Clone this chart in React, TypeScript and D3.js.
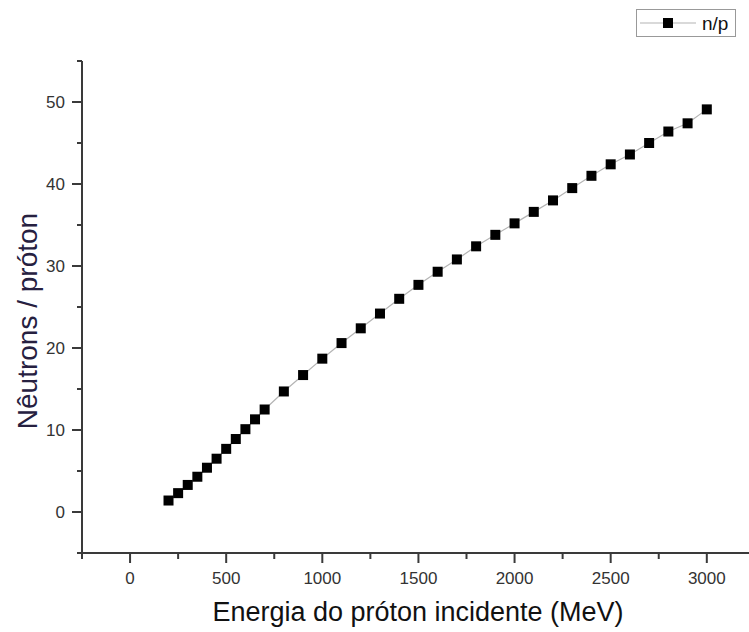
import React from "react";
import * as d3 from "d3";

const energies = [200, 250, 300, 350, 400, 450, 500, 550, 600, 650, 700, 800, 900, 1000, 1100, 1200, 1300, 1400, 1500, 1600, 1700, 1800, 1900, 2000, 2100, 2200, 2300, 2400, 2500, 2600, 2700, 2800, 2900, 3000];
const neutronsPerProton = [1.4, 2.3, 3.3, 4.3, 5.4, 6.5, 7.7, 8.9, 10.1, 11.3, 12.5, 14.7, 16.7, 18.7, 20.6, 22.4, 24.2, 26.0, 27.7, 29.3, 30.8, 32.4, 33.8, 35.2, 36.6, 38.0, 39.5, 41.0, 42.4, 43.6, 45.0, 46.4, 47.4, 49.1];
const xTicks = [0, 500, 1000, 1500, 2000, 2500, 3000];
const xMinorTicks = [-250, 250, 750, 1250, 1750, 2250, 2750];
const yTicks = [0, 10, 20, 30, 40, 50];
const yMinorTicks = [-5, 5, 15, 25, 35, 45, 55];
const seriesName = "n/p";
const xTitle = "Energia do próton incidente (MeV)";
const yTitle = "Nêutrons / próton";

const W = 749;
const H = 632;
const FONT = "'Liberation Sans', Arial, sans-serif";

export default function App() {
  const x = d3.scaleLinear().domain([-250, 3220]).range([82, 749.1]);
  const y = d3.scaleLinear().domain([-5, 55]).range([553, 61]);
  const pts = energies.map((e, i) => [e, neutronsPerProton[i]] as [number, number]);
  const line = d3
    .line<[number, number]>()
    .x((d) => x(d[0]))
    .y((d) => y(d[1]));
  const axisColor = "#3a3a3a";
  const x0 = x(-250);
  const y0 = y(-5);
  const ms = 10;

  return (
    <div style={{ position: "absolute", left: 0, top: 0 }}>
      <svg width={W} height={H} style={{ display: "block", background: "#fff" }}>
        <rect x={0} y={0} width={W} height={H} fill="#fff" />
        <path d={line(pts) || ""} fill="none" stroke="#b4b4b4" strokeWidth={1.2} />
        {pts.map((p, i) => (
          <rect key={i} x={x(p[0]) - ms / 2} y={y(p[1]) - ms / 2} width={ms} height={ms} fill="#000" />
        ))}
        <line x1={x0} x2={x0} y1={y(55)} y2={y0} stroke={axisColor} strokeWidth={2} />
        <line x1={x0} x2={W} y1={y0} y2={y0} stroke={axisColor} strokeWidth={2} />
        {xTicks.map((t) => (
          <g key={"xt" + t}>
            <line x1={x(t)} x2={x(t)} y1={y0} y2={y0 + 10} stroke={axisColor} strokeWidth={2} />
            <text x={x(t)} y={584} textAnchor="middle" fontFamily={FONT} fontSize={17} fill="#333">
              {t}
            </text>
          </g>
        ))}
        {xMinorTicks.map((t) => (
          <line key={"xm" + t} x1={x(t)} x2={x(t)} y1={y0} y2={y0 + 6} stroke={axisColor} strokeWidth={2} />
        ))}
        {yTicks.map((t) => (
          <g key={"yt" + t}>
            <line x1={x0 - 10} x2={x0} y1={y(t)} y2={y(t)} stroke={axisColor} strokeWidth={2} />
            <text x={65} y={y(t) + 6} textAnchor="end" fontFamily={FONT} fontSize={17} fill="#333">
              {t}
            </text>
          </g>
        ))}
        {yMinorTicks.map((t) => (
          <line key={"ym" + t} x1={x0 - 5} x2={x0} y1={y(t)} y2={y(t)} stroke={axisColor} strokeWidth={2} />
        ))}
        <text x={418} y={621} textAnchor="middle" fontFamily={FONT} fontSize={27} fill="#111">
          {xTitle}
        </text>
        <text
          transform={`translate(37, 321) rotate(-90)`}
          textAnchor="middle"
          fontFamily={FONT}
          fontSize={28}
          fill="#262040"
        >
          {yTitle}
        </text>
        <rect x={636.5} y={9.5} width={99} height={27} fill="#fff" stroke="#999" strokeWidth={1} />
        <line x1={640} x2={696} y1={23} y2={23} stroke="#b4b4b4" strokeWidth={1.2} />
        <rect x={668 - 5} y={23 - 5} width={10} height={10} fill="#000" />
        <text x={702} y={30} fontFamily={FONT} fontSize={19} fill="#111">
          {seriesName}
        </text>
      </svg>
    </div>
  );
}
